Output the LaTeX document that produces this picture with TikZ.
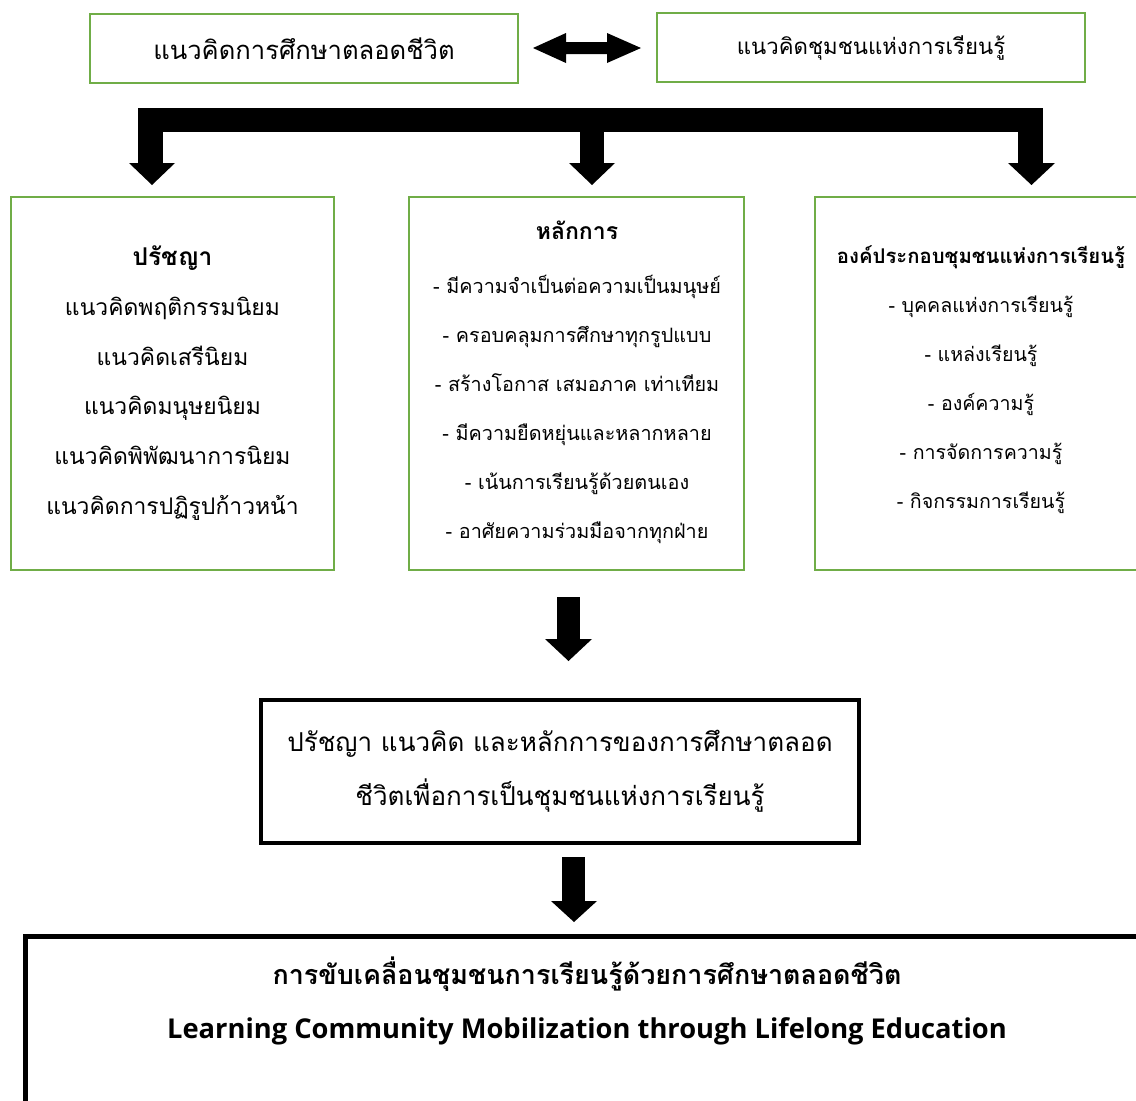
\documentclass[tikz,border=0pt]{standalone}
\usepackage{fontspec}
\newfontfamily\thai[Script=Thai]{Loma}
\newfontfamily\eng{Open Sans}
\definecolor{boxgreen}{HTML}{70AD47}
\begin{document}
\begin{tikzpicture}[x=1pt,y=-1pt,
  gbox/.style={draw=boxgreen,line width=2.5pt,inner sep=0pt},
  kbox/.style={draw=black,line width=4pt,inner sep=0pt},
  txt/.style={align=center,inner sep=0pt},
  blk/.style={fill=black,draw=none}]
\useasboundingbox (0,0) rectangle (1136,1101);
\fill[white] (0,0) rectangle (1136,1101);

% top boxes
\node[gbox,minimum width=428pt,minimum height=69pt,font=\thai\fontsize{25.6}{30}\selectfont] (lle) at (304,48.5) {แนวคิดการศึกษาตลอดชีวิต};
\node[gbox,minimum width=428pt,minimum height=69pt,font=\thai\fontsize{22.2}{26}\selectfont] (lc) at (871,47.5) {แนวคิดชุมชนแห่งการเรียนรู้};

% double arrow between top boxes
\fill[blk] (533,48) -- (566,33) -- (566,42) -- (607,42) -- (607,33) -- (641,48)
  -- (607,63) -- (607,54) -- (566,54) -- (566,63) -- cycle;

% T bar with three arrows
\fill[blk] (138,108) rectangle (1043,132);
\fill[blk] (138,131) rectangle (163,164);
\fill[blk] (580,131) rectangle (604,164);
\fill[blk] (1018,131) rectangle (1043,164);
\fill[blk] (129,163) -- (175,163) -- (152,185) -- cycle;
\fill[blk] (569,163) -- (615,163) -- (592,185) -- cycle;
\fill[blk] (1008,163) -- (1055,163) -- (1031.5,185) -- cycle;

% three green boxes
\node[gbox,minimum width=323pt,minimum height=373pt] (phil) at (172.5,383.5) {};
\node[gbox,minimum width=335pt,minimum height=373pt] (prin) at (576.5,383.5) {};
\coordinate (compNW) at (815,197);
\coordinate (compSW) at (815,570);
\draw[draw=boxgreen,line width=2.5pt] (1140,197) -- (compNW) -- (compSW) -- (1140,570);

\node[txt,font=\thai\fontsize{22.9}{49.8}\selectfont] (philT) at (172.5,383) {{\fontsize{24.5}{49.8}\selectfont\textbf{ปรัชญา}}\\แนวคิดพฤติกรรมนิยม\\แนวคิดเสรีนิยม\\แนวคิดมนุษยนิยม\\แนวคิดพิพัฒนาการนิยม\\แนวคิดการปฏิรูปก้าวหน้า};
\node[txt,font=\thai\fontsize{19.8}{49}\selectfont] (prinT) at (577,382) {{\fontsize{23}{49}\selectfont\textbf{หลักการ}}\\[5pt]- มีความจำเป็นต่อความเป็นมนุษย์\\- ครอบคลุมการศึกษาทุกรูปแบบ\\- สร้างโอกาส เสมอภาค เท่าเทียม\\- มีความยืดหยุ่นและหลากหลาย\\- เน้นการเรียนรู้ด้วยตนเอง\\- อาศัยความร่วมมือจากทุกฝ่าย};
\node[txt,font=\thai\fontsize{19.6}{49}\selectfont] (compT) at (981,380) {{\fontsize{20.3}{49}\selectfont\textbf{องค์ประกอบชุมชนแห่งการเรียนรู้}}\\- บุคคลแห่งการเรียนรู้\\- แหล่งเรียนรู้\\- องค์ความรู้\\- การจัดการความรู้\\- กิจกรรมการเรียนรู้};

% arrow down 1
\fill[blk] (557,597) rectangle (580,640);
\fill[blk] (545,639) -- (592,639) -- (568.5,661) -- cycle;

% black box
\node[kbox,minimum width=598pt,minimum height=143pt,font=\thai\fontsize{26}{54}\selectfont,align=center] (synth) at (560,771) {ปรัชญา แนวคิด และหลักการของการศึกษาตลอด\\ชีวิตเพื่อการเป็นชุมชนแห่งการเรียนรู้};

% arrow down 2
\fill[blk] (562,857) rectangle (585,902);
\fill[blk] (551,901) -- (597,901) -- (574,922) -- cycle;

% bottom box (open at right and bottom)
\coordinate (botNW) at (25,936);
\draw[line width=5pt] (1140,936) -- (botNW) -- (25,1105);
\node[txt,font=\thai\bfseries\fontsize{26.9}{30}\selectfont] (botT) at (587,974) {การขับเคลื่อนชุมชนการเรียนรู้ด้วยการศึกษาตลอดชีวิต};
\node[txt,font=\eng\bfseries\fontsize{27.3}{32}\selectfont] (botE) at (587,1031) {Learning Community Mobilization through Lifelong Education};
\end{tikzpicture}
\end{document}
